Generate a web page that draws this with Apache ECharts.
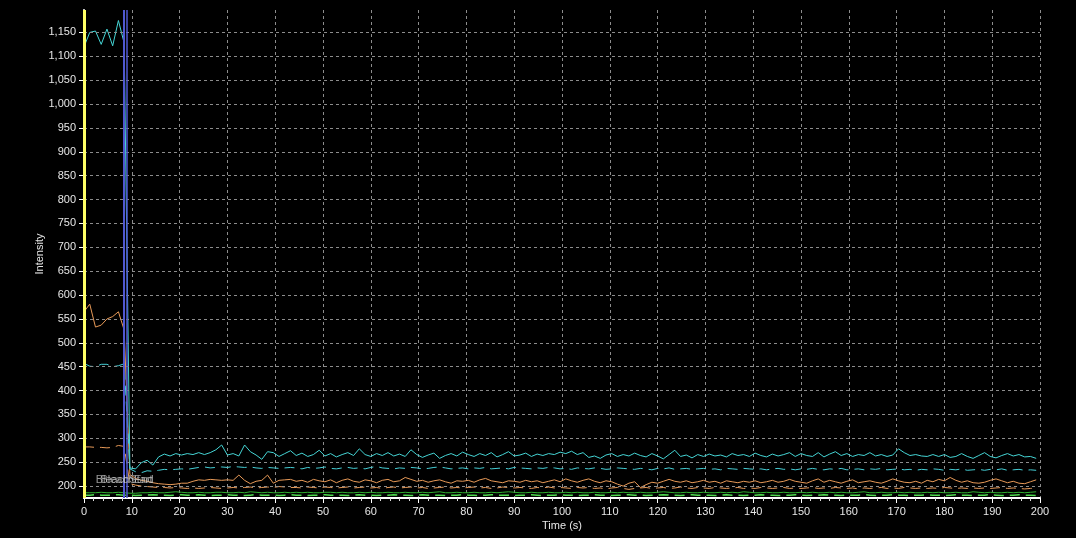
<!DOCTYPE html>
<html>
<head>
<meta charset="utf-8">
<title>Intensity vs Time</title>
<script src="https://cdn.jsdelivr.net/npm/echarts@6/dist/echarts.min.js"></script>
<style>
  html, body { margin: 0; padding: 0; background: #000; }
  #chart { width: 1076px; height: 538px; }
</style>
</head>
<body>
<div id="chart"></div>
<script>
// sampling: one frame every 1.2 s, bleach happens between 8.4 s and 9.0 s
const sampleStep = 1.2
const bleachStart = 8.4
const bleachEnd = 9.0

// ROI 1 (cyan, solid)
const roi1Pre = [1120, 1150, 1153, 1125, 1157, 1122, 1175, 1128]
const roi1Post = [
  238, 236, 249, 254, 244, 261, 267, 263, 268, 265,
  268, 266, 270, 266, 270, 276, 286, 265, 268, 263,
  286, 272, 265, 256, 272, 270, 262, 268, 274,
  264, 269, 262, 266, 275, 263, 268, 261, 266, 270,
  264, 278, 266, 262, 268, 264, 270, 263, 267, 262,
  276, 266, 260, 265, 269, 258, 264, 268, 263, 271,
  266, 262, 268, 264, 270, 261, 266, 272, 263, 265,
  269, 262, 267, 264, 268, 266, 271, 268, 273, 266,
  270, 260, 263, 258, 265, 268, 262, 266, 263, 269,
  264, 261, 268, 263, 257, 266, 275, 262, 265, 259,
  266, 262, 267, 263, 265, 261, 268, 264, 266, 262,
  269, 264, 261, 267, 263, 266, 270, 262, 268, 264,
  262, 270, 261, 267, 272, 264, 268, 262, 266, 264,
  270, 263, 266, 262, 265, 278, 270, 264, 266, 263,
  262, 266, 262, 266, 260, 262, 268, 262, 258, 264,
  270, 262, 259, 264, 268, 263, 266, 261, 262, 258
]

// ROI 2 (cyan, dashed)
const roi2Pre = [457, 451, 450, 455, 455, 450, 452, 456]
const roi2Post = [
  236, 230, 228, 232, 231, 233, 235, 234, 235, 236,
  235, 237, 239, 240, 238, 239, 240, 239, 241, 240,
  239, 240, 238, 237, 239, 238, 237, 238, 239,
  238, 236, 239, 237, 238, 240, 237, 236, 238, 239,
  237, 238, 236, 239, 241, 238, 237, 236, 238, 237,
  239, 238, 236, 237, 239, 240, 238, 236, 237, 238,
  236, 238, 237, 239, 236, 237, 238, 236, 239, 238,
  237, 236, 238, 237, 239, 238, 236, 237, 235, 238,
  237, 236, 238, 237, 235, 236, 238, 237, 236, 235,
  237, 236, 234, 237, 236, 238, 235, 236, 237, 235,
  236, 237, 235, 236, 234, 237, 236, 235, 237, 236,
  235, 236, 234, 236, 237, 235, 236, 234, 236, 235,
  237, 235, 234, 236, 235, 237, 234, 235, 236, 234,
  236, 235, 237, 234, 235, 236, 234, 235, 233, 235,
  234, 236, 235, 233, 235, 234, 236, 233, 234, 235,
  233, 235, 234, 236, 233, 234, 235, 233, 234, 233
]

// ROI 3 (orange, solid)
const roi3Pre = [565, 581, 533, 537, 550, 555, 565, 527]
const roi3Post = [
  224, 216, 212, 210, 207, 205, 204, 203, 204, 206,
  206, 210, 213, 212, 214, 213, 212, 213, 212, 223,
  212, 205, 210, 212, 223, 206, 212, 213, 214,
  210, 212, 208, 214, 211, 209, 213, 207, 212, 215,
  210, 208, 213, 211, 207, 212, 214, 209, 211, 218,
  214, 210, 212, 208, 211, 213, 209, 206, 211, 210,
  212, 208, 213, 216, 211, 209, 207, 211, 210, 208,
  212, 209, 211, 207, 210, 213, 209, 215, 211, 208,
  212, 215, 210, 207, 211, 209, 204, 200, 206, 209,
  197, 203, 208, 206, 210, 214, 210, 208, 211, 207,
  209, 212, 208, 210, 206, 211, 209, 207, 210, 208,
  211, 207, 209, 212, 208, 210, 214, 210, 208, 206,
  211, 215, 208, 212, 209, 206, 210, 213, 207, 209,
  211, 208, 206, 210, 215, 211, 208, 207, 210, 206,
  212, 209, 214, 211, 218, 212, 208, 211, 207, 206,
  208, 212, 215, 211, 207, 210, 206, 205, 209, 213
]

// ROI 4 (orange, dashed)
const roi4Pre = [282, 282, 281, 281, 280, 281, 285, 283]
const roi4Post = [
  205, 202, 200, 199, 198, 197, 197, 196, 197, 196,
  195, 196, 195, 196, 197, 196, 195, 196, 197, 196,
  197, 198, 196, 197, 198, 197, 199, 198, 197,
  197, 196, 198, 197, 196, 198, 197, 196, 197, 198,
  196, 197, 198, 196, 197, 195, 197, 198, 196, 197,
  198, 196, 197, 195, 196, 197, 198, 196, 197, 196,
  197, 198, 196, 197, 195, 196, 198, 197, 196, 197,
  196, 195, 197, 196, 198, 196, 197, 196, 195, 197,
  196, 197, 195, 196, 194, 196, 197, 195, 193, 195,
  196, 197, 195, 196, 197, 195, 196, 198, 196, 195,
  197, 196, 195, 197, 196, 195, 196, 197, 195, 196,
  195, 197, 196, 195, 196, 197, 195, 196, 195, 196,
  197, 195, 196, 195, 197, 196, 195, 196, 194, 196,
  195, 196, 197, 195, 196, 195, 197, 196, 195, 196,
  195, 196, 195, 197, 196, 195, 196, 195, 196, 195,
  196, 195, 196, 197, 195, 196, 195, 194, 195, 196
]

// background ROI (green, solid)
const bgPre = [186, 186, 186, 187, 186, 186, 187, 186]
const bgPost = [
  185, 185, 186, 186, 187, 186, 186, 187, 188, 187,
  186, 186, 187, 186, 186, 187, 187, 186, 186, 187,
  186, 188, 187, 186, 187, 186, 186, 187, 186, 187,
  186, 187, 186, 186, 187, 187, 186, 187, 186, 186,
  187, 186, 187, 186, 186, 187, 186, 186, 187, 186,
  186, 187, 186, 187, 188, 186, 186, 187, 186, 186,
  187, 186, 186, 187, 186, 187, 188, 187, 186, 186,
  187, 186, 186, 187, 186, 186, 187, 186, 187, 186,
  186, 187, 186, 186, 187, 186, 187, 186, 186, 187,
  186, 186, 187, 188, 187, 186, 186, 187, 186, 186,
  187, 186, 186, 187, 186, 187, 186, 188, 187, 186,
  186, 187, 186, 186, 187, 186, 186, 187, 186, 187,
  186, 186, 187, 186, 187, 186, 186, 187, 188, 186,
  186, 187, 186, 186, 187, 186, 187, 186, 186, 187,
  186, 187, 186, 186, 187, 186, 186, 188, 187, 186,
  187, 186, 186, 187, 186, 187, 186, 187, 188
]

// reference ROI (green, dashed)
const refPre = [181, 181, 182, 181, 181, 181, 182, 181]
const refPost = [
  181, 180, 181, 181, 182, 181, 181, 180, 181, 182,
  181, 181, 182, 181, 180, 181, 181, 182, 181, 181,
  180, 181, 182, 181, 181, 181, 180, 181, 182, 181,
  181, 180, 181, 181, 182, 181, 181, 181, 180, 181,
  182, 181, 181, 180, 181, 181, 182, 181, 181, 180,
  181, 182, 181, 181, 181, 180, 181, 181, 182, 181,
  181, 180, 181, 182, 181, 181, 181, 180, 181, 181,
  182, 181, 180, 181, 181, 182, 181, 181, 180, 181,
  181, 182, 181, 181, 180, 181, 181, 182, 181, 181,
  180, 181, 181, 182, 181, 181, 180, 181, 182, 181,
  181, 181, 180, 181, 182, 181, 181, 180, 181, 181,
  182, 181, 181, 180, 181, 181, 182, 181, 180, 181,
  181, 182, 181, 181, 180, 181, 181, 181, 182, 181,
  180, 181, 181, 182, 181, 181, 180, 181, 181, 182,
  181, 181, 180, 181, 182, 181, 181, 180, 181, 181,
  182, 181, 180, 181, 181, 182, 181, 181, 180
]

// y tick values (axis starts at 175, ticks on the 50s)
const yTicks = [200, 250, 300, 350, 400, 450, 500, 550, 600, 650, 700, 750,
  800, 850, 900, 950, 1000, 1050, 1100, 1150]
const xTickStep = 10

const toPairs = (pre, post) => pre.concat(post).map((v, i) => [+(i * sampleStep).toFixed(1), v])

const chart = echarts.init(document.getElementById('chart'))

const lineSeries = (name, pre, post, color, dashed, width) => ({
  name,
  type: 'line',
  showSymbol: false,
  symbol: 'none',
  data: toPairs(pre, post),
  lineStyle: { color, width: width || 1, type: dashed ? [10, 6] : 'solid' },
  z: 3
})

const axisFont = { color: '#e6e6e6', fontSize: 11, fontFamily: 'Liberation Sans, Arial' }
const gridLine = { color: '#8c8c8c', width: 1, type: [3, 3] }

chart.setOption({
  backgroundColor: '#000',
  animation: false,
  grid: { left: 84, right: 36, top: 10, bottom: 40, containLabel: false },
  xAxis: {
    type: 'value',
    min: 0,
    max: 200,
    interval: xTickStep,
    name: 'Time (s)',
    nameLocation: 'middle',
    nameGap: 22,
    nameMoveOverlap: false,
    nameTextStyle: axisFont,
    axisLine: { onZero: false, lineStyle: { color: '#fff', width: 2 } },
    axisTick: { length: 5, lineStyle: { color: '#fff' } },
    minorTick: { show: true, splitNumber: 5, length: 3, lineStyle: { color: '#ddd' } },
    axisLabel: { ...axisFont, margin: 8 },
    splitLine: { show: true, showMinLine: false, lineStyle: gridLine }
  },
  yAxis: {
    type: 'value',
    min: 175,
    max: 1197,
    name: 'Intensity',
    nameLocation: 'middle',
    nameGap: 39,
    nameMoveOverlap: false,
    nameTextStyle: axisFont,
    axisLine: { show: true, onZero: false, lineStyle: { color: '#fff', width: 2 } },
    axisTick: { length: 5, customValues: yTicks, lineStyle: { color: '#fff' } },
    axisLabel: {
      ...axisFont,
      margin: 8,
      customValues: yTicks,
      formatter: v => v.toLocaleString('en-US')
    },
    splitLine: { show: false }
  },
  series: [
    lineSeries('ref', refPre, refPost, '#4fd84f', true, 1.5),
    lineSeries('bg', bgPre, bgPost, '#2fae2f', false),
    lineSeries('roi4', roi4Pre, roi4Post, '#e89a58', true),
    lineSeries('roi3', roi3Pre, roi3Post, '#e89a58', false),
    lineSeries('roi2', roi2Pre, roi2Post, '#45cfd6', true),
    {
      ...lineSeries('roi1', roi1Pre, roi1Post, '#45d6d6', false),
      // marker lines: horizontal grid on the y ticks, time zero + bleach window
      markLine: {
        silent: true,
        symbol: 'none',
        label: { show: false },
        data: yTicks.map(v => ({ yAxis: v, lineStyle: gridLine, z: 1 })).concat([
          { xAxis: 0, lineStyle: { color: '#ffff66', width: 3, type: 'solid' } },
          { xAxis: bleachStart, lineStyle: { color: '#5058d0', width: 2, type: 'solid' } },
          { xAxis: bleachEnd, lineStyle: { color: '#5058d0', width: 1.5, type: 'solid' } }
        ])
      },
      markPoint: {
        silent: true,
        symbol: 'circle',
        symbolSize: 1,
        itemStyle: { color: 'rgba(0,0,0,0)' },
        label: {
          show: true,
          position: 'inside',
          color: 'rgba(200,200,200,0.75)',
          fontSize: 11,
          fontFamily: 'Liberation Sans, Arial',
          formatter: p => p.name
        },
        data: [
          { name: 'BleachStart', coord: [bleachStart, 212] },
          { name: 'BleachEnd', coord: [bleachEnd, 212] }
        ]
      }
    }
  ]
})
</script>
</body>
</html>
